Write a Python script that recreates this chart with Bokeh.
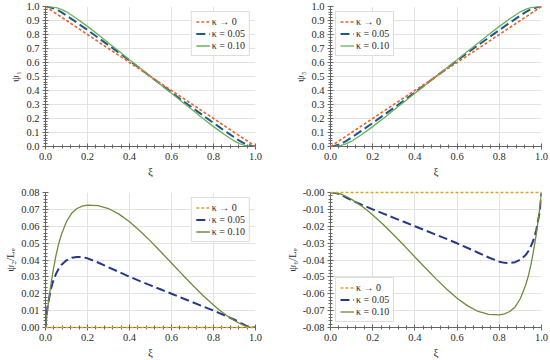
from bokeh.plotting import figure
from bokeh.layouts import column, row
from bokeh.models import Range1d, FixedTicker, NumeralTickFormatter, CustomJSTickFormatter, Legend, LegendItem
from bokeh.embed import file_html
from bokeh.resources import INLINE

# ---------------- data ----------------
xi = [0.0, 0.005, 0.01, 0.025, 0.0375, 0.05, 0.0625, 0.075, 0.1, 0.125, 0.15, 0.175, 0.2,
      0.25, 0.3, 0.35, 0.4, 0.45, 0.5, 0.55, 0.6, 0.65, 0.7, 0.75,
      0.8, 0.825, 0.85, 0.875, 0.9, 0.925, 0.9375, 0.95, 0.9625, 0.975, 0.99, 0.995, 1.0]

psi1_k0 = [1.0, 0.995, 0.99, 0.975, 0.9625, 0.95, 0.9375, 0.925, 0.9, 0.875, 0.85, 0.825, 0.8,
           0.75, 0.7, 0.65, 0.6, 0.55, 0.5, 0.45, 0.4, 0.35, 0.3, 0.25,
           0.2, 0.175, 0.15, 0.125, 0.1, 0.075, 0.0625, 0.05, 0.0375, 0.025, 0.01, 0.005, 0.0]
psi1_k05 = [1.0, 0.9997, 0.999, 0.993, 0.987, 0.980, 0.970, 0.960, 0.935, 0.910, 0.885, 0.858, 0.832,
            0.778, 0.724, 0.67, 0.614, 0.557, 0.5, 0.443, 0.386, 0.33, 0.276, 0.222,
            0.168, 0.142, 0.115, 0.090, 0.065, 0.040, 0.030, 0.020, 0.013, 0.007, 0.001, 0.0003, 0.0]
psi1_k10 = [1.0, 0.9999, 0.9997, 0.998, 0.9955, 0.992, 0.987, 0.980, 0.962, 0.938, 0.912, 0.885, 0.858,
            0.80, 0.74, 0.68, 0.62, 0.56, 0.5, 0.44, 0.38, 0.32, 0.26, 0.20,
            0.142, 0.115, 0.088, 0.062, 0.038, 0.020, 0.013, 0.008, 0.0045, 0.002, 0.0003, 0.0001, 0.0]

psi5_k0 = [0.0, 0.005, 0.01, 0.025, 0.0375, 0.05, 0.0625, 0.075, 0.1, 0.125, 0.15, 0.175, 0.2,
           0.25, 0.3, 0.35, 0.4, 0.45, 0.5, 0.55, 0.6, 0.65, 0.7, 0.75,
           0.8, 0.825, 0.85, 0.875, 0.9, 0.925, 0.9375, 0.95, 0.9625, 0.975, 0.99, 0.995, 1.0]
psi5_k05 = [0.0, 0.0003, 0.001, 0.007, 0.013, 0.020, 0.030, 0.040, 0.065, 0.090, 0.115, 0.142, 0.168,
            0.222, 0.276, 0.33, 0.386, 0.443, 0.5, 0.557, 0.614, 0.67, 0.724, 0.778,
            0.832, 0.858, 0.885, 0.910, 0.935, 0.960, 0.970, 0.980, 0.987, 0.993, 0.999, 0.9997, 1.0]
psi5_k10 = [0.0, 0.0001, 0.0003, 0.002, 0.0045, 0.008, 0.013, 0.020, 0.038, 0.062, 0.088, 0.115, 0.142,
            0.20, 0.26, 0.32, 0.38, 0.44, 0.5, 0.56, 0.62, 0.68, 0.74, 0.80,
            0.858, 0.885, 0.912, 0.938, 0.962, 0.980, 0.987, 0.992, 0.9955, 0.998, 0.9997, 0.9999, 1.0]

psi2_k0 = [0.0] * 37
psi2_k05 = [0.0, 0.0075, 0.0125, 0.0225, 0.028, 0.0318, 0.0348, 0.0370, 0.0398, 0.0413, 0.0418, 0.0417, 0.0410,
            0.0385, 0.0357, 0.0329, 0.0301, 0.0275, 0.0250, 0.0225, 0.0200, 0.0175, 0.0150, 0.0125,
            0.0100, 0.0087, 0.0074, 0.0060, 0.0046, 0.0030, 0.0022, 0.0014, 0.0007, 0.0003, 0.0, 0.0, 0.0]
psi2_k10 = [0.0, 0.0058, 0.011, 0.025, 0.0345, 0.0428, 0.0495, 0.0548, 0.0628, 0.0678, 0.0705, 0.0719, 0.0725,
            0.0722, 0.0705, 0.0672, 0.0627, 0.0572, 0.0512, 0.0447, 0.0382, 0.0316, 0.0252, 0.0190,
            0.0133, 0.0107, 0.0083, 0.0061, 0.0041, 0.0024, 0.0017, 0.0010, 0.0005, 0.0002, 0.0, 0.0, 0.0]

psi6_k0 = [0.0] * 37
psi6_k05 = [0.0, 0.0, 0.0, -0.0003, -0.0007, -0.0014, -0.0022, -0.0030, -0.0046, -0.0060, -0.0074, -0.0087, -0.0100,
            -0.0125, -0.0150, -0.0175, -0.0200, -0.0225, -0.0250, -0.0275, -0.0301, -0.0329, -0.0357, -0.0385,
            -0.0410, -0.0417, -0.0418, -0.0413, -0.0398, -0.0370, -0.0348, -0.0318, -0.028, -0.0225, -0.0125, -0.0075, 0.0]
psi6_k10 = [0.0, 0.0, 0.0, -0.0002, -0.0005, -0.0010, -0.0017, -0.0024, -0.0041, -0.0061, -0.0083, -0.0107, -0.0133,
            -0.0190, -0.0252, -0.0316, -0.0382, -0.0447, -0.0512, -0.0572, -0.0627, -0.0672, -0.0705, -0.0722,
            -0.0725, -0.0719, -0.0705, -0.0678, -0.0628, -0.0548, -0.0495, -0.0428, -0.0345, -0.025, -0.011, -0.0058, 0.0]

legend_labels = ["κ → 0", "κ = 0.05", "κ = 0.10"]
x_ticks = [0.0, 0.2, 0.4, 0.6, 0.8, 1.0]
y_ticks_top = [0.0, 0.1, 0.2, 0.3, 0.4, 0.5, 0.6, 0.7, 0.8, 0.9, 1.0]
y_ticks_bl = [0.0, 0.01, 0.02, 0.03, 0.04, 0.05, 0.06, 0.07, 0.08]
y_ticks_br = [0.0, -0.01, -0.02, -0.03, -0.04, -0.05, -0.06, -0.07, -0.08]

FONT = "Liberation Serif"
TOP_COLORS = ["#F0612E", "#1E5A86", "#6DAF5E"]
BOT_COLORS = ["#DDA524", "#26388C", "#6E8C3A"]


def minor(ticks, n=5):
    t = sorted(ticks)
    out = []
    for a, b in zip(t[:-1], t[1:]):
        for k in range(1, n):
            out.append(a + (b - a) * k / n)
    return out


def make(width, height, bl, br, bt, bb, yr, yticks, ylabel, fmt, series, colors, loc):
    p = figure(width=width, height=height, output_backend="svg", toolbar_location=None,
               x_range=Range1d(0, 1), y_range=Range1d(*yr),
               min_border_left=bl, min_border_right=br, min_border_top=bt, min_border_bottom=bb)
    p.outline_line_color = None
    p.background_fill_color = "white"
    p.xaxis.ticker = FixedTicker(ticks=x_ticks, minor_ticks=minor(x_ticks))
    p.yaxis.ticker = FixedTicker(ticks=yticks, minor_ticks=minor(yticks))
    p.xaxis.formatter = NumeralTickFormatter(format="0.0")
    p.yaxis.formatter = fmt
    for ax in (p.xaxis[0], p.yaxis[0]):
        ax.axis_line_color = "#666666"
        ax.major_tick_line_color = "#666666"
        ax.minor_tick_line_color = "#666666"
        ax.major_tick_in = 3
        ax.major_tick_out = 3
        ax.minor_tick_in = 2
        ax.minor_tick_out = 2
        ax.major_label_text_font = FONT
        ax.major_label_text_font_size = "10.5px"
        ax.major_label_text_color = "#2a2a2a"
        ax.axis_label_text_font = FONT
        ax.axis_label_text_font_size = "11px"
        ax.axis_label_text_font_style = "normal"
        ax.axis_label_text_color = "#2a2a2a"
        ax.major_label_standoff = 3
        ax.axis_label_standoff = 2
    p.xaxis.axis_label = "ξ"
    p.yaxis.axis_label = ylabel
    p.xgrid.grid_line_color = "#e3e3e3"
    p.ygrid.grid_line_color = "#e3e3e3"
    p.xgrid.ticker = FixedTicker(ticks=x_ticks)
    p.ygrid.ticker = FixedTicker(ticks=yticks)

    ys0, ys1, ys2 = series
    r0 = p.line(xi, ys0, line_color=colors[0], line_width=1.6, line_dash="3 2")
    r1 = p.line(xi, ys1, line_color=colors[1], line_width=2.0, line_dash="9 4")
    r2 = p.line(xi, ys2, line_color=colors[2], line_width=1.3)
    r0.level = "overlay"
    legend = Legend(items=[LegendItem(label=legend_labels[0], renderers=[r0]),
                           LegendItem(label=legend_labels[1], renderers=[r1]),
                           LegendItem(label=legend_labels[2], renderers=[r2])],
                    location=loc)
    legend.label_text_font = FONT
    legend.label_text_font_size = "10px"
    legend.label_text_color = "#2a2a2a"
    legend.glyph_width = 14
    legend.glyph_height = 9
    legend.label_height = 10
    legend.label_standoff = 2
    legend.spacing = 1
    legend.padding = 4
    legend.margin = 5
    legend.border_line_color = "#bbbbbb"
    legend.background_fill_alpha = 1.0
    p.add_layout(legend)
    return p


fmt1 = NumeralTickFormatter(format="0.0")
fmt2 = NumeralTickFormatter(format="0.00")
fmt3 = CustomJSTickFormatter(code="return (tick <= 0 ? '-' : '') + Math.abs(tick).toFixed(2);")

p1 = make(275, 180, 45, 20, 6, 34, (0, 1), y_ticks_top, "ψ₁", fmt1,
          (psi1_k0, psi1_k05, psi1_k10), TOP_COLORS, "top_right")
p2 = make(275, 180, 55, 9, 6, 34, (0, 1), y_ticks_top, "ψ₅", fmt1,
          (psi5_k0, psi5_k05, psi5_k10), TOP_COLORS, "top_left")
p3 = make(275, 180, 45, 20, 12, 26, (0, 0.08), y_ticks_bl, "ψ₂/Lₑ", fmt2,
          (psi2_k0, psi2_k05, psi2_k10), BOT_COLORS, "top_right")
p4 = make(275, 180, 55, 9, 12, 26, (-0.08, 0), y_ticks_br, "ψ₆/Lₑ", fmt3,
          (psi6_k0, psi6_k05, psi6_k10), BOT_COLORS, "bottom_left")

layout = column(row(p1, p2), row(p3, p4))
open("out.html", "w").write(file_html(layout, INLINE))
